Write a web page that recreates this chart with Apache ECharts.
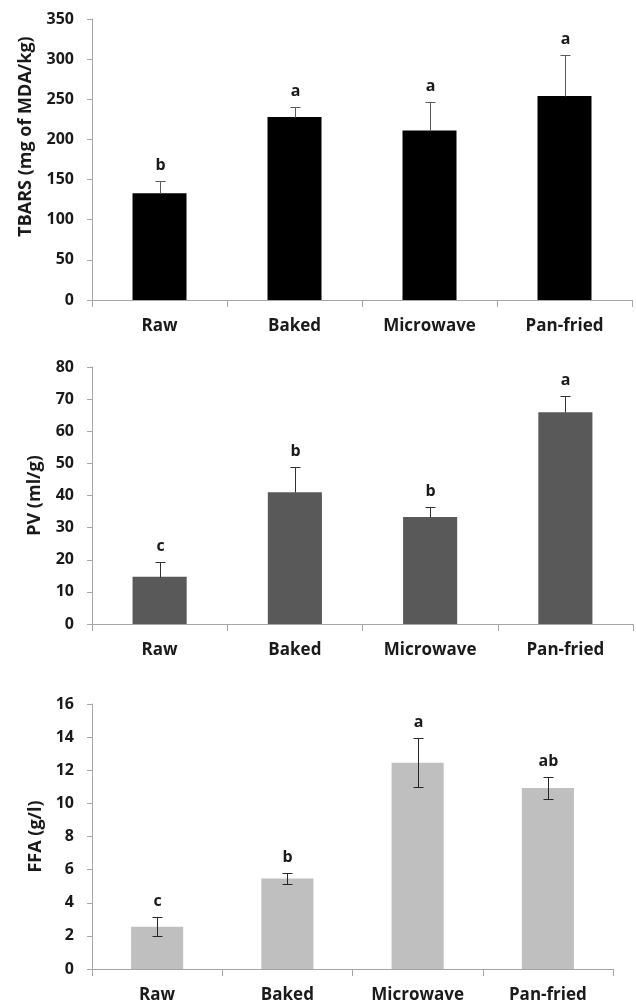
<!DOCTYPE html>
<html><head><meta charset="utf-8">
<script src="https://cdn.jsdelivr.net/npm/echarts@6/dist/echarts.min.js"></script>
<style>html,body{margin:0;padding:0;background:#fff}#c{width:636px;height:1006px}</style>
</head><body><div id="c"></div>
<script>
const categories = ['Raw', 'Baked', 'Microwave', 'Pan-fried'];

const tbarsMean = [133, 228, 211, 254];
const tbarsErr = [15, 12, 36, 51];
const tbarsLetters = ['b', 'a', 'a', 'a'];
const tbarsAxis = [0, 350, 50];

const pvMean = [14.7, 41.0, 33.3, 65.9];
const pvErr = [4.7, 8.0, 3.1, 5.0];
const pvLetters = ['c', 'b', 'b', 'a'];
const pvAxis = [0, 80, 10];

const ffaMean = [2.55, 5.47, 12.45, 10.93];
const ffaErr = [0.57, 0.32, 1.48, 0.66];
const ffaLetters = ['c', 'b', 'a', 'ab'];
const ffaAxis = [0, 16, 2];

const FONT = '"Open Sans", "Liberation Sans", sans-serif';
const TXT = '#1a1a1a';
const AX = '#a6a6a6';

const panels = [
  {name: 'TBARS (mg of MDA/kg)', mean: tbarsMean, err: tbarsErr, letters: tbarsLetters, axis: tbarsAxis,
   color: '#000000', errColor: '#595959', both: false, grid: {left: 92, top: 19, width: 540, height: 281}, nameGap: 57, namePad: [0, 0, 0, 46]},
  {name: 'PV (ml/g)', mean: pvMean, err: pvErr, letters: pvLetters, axis: pvAxis,
   color: '#595959', errColor: '#333333', both: false, grid: {left: 92, top: 367, width: 541, height: 257}, nameGap: 48, namePad: [0, 0, 0, 0]},
  {name: 'FFA (g/l)', mean: ffaMean, err: ffaErr, letters: ffaLetters, axis: ffaAxis,
   color: '#bfbfbf', errColor: '#262626', both: true, grid: {left: 92, top: 704, width: 521, height: 265}, nameGap: 46, namePad: [0, 0, 0, 0]}
];

function makeRender(p) {
  return function (params, api) {
    const i = api.value(0), m = api.value(1), e = api.value(2);
    const top = api.coord([i, m + e]);
    const mid = api.coord([i, m]);
    const bot = api.coord([i, m - e]);
    const x = Math.round(top[0]) + 0.5;
    const yt = Math.round(top[1]) + 0.5;
    const yb = Math.round(p.both ? bot[1] : mid[1]) + 0.5;
    const st = {stroke: p.errColor, lineWidth: 1};
    const cap = 5;
    const ch = [
      {type: 'line', shape: {x1: x, y1: yt, x2: x, y2: yb}, style: st},
      {type: 'line', shape: {x1: x - cap, y1: yt, x2: x + cap, y2: yt}, style: st}
    ];
    if (p.both) ch.push({type: 'line', shape: {x1: x - cap, y1: yb, x2: x + cap, y2: yb}, style: st});
    ch.push({type: 'text', x: x, y: yt - 8, style: {text: p.letters[params.dataIndex], align: 'center', verticalAlign: 'bottom',
      fontSize: 16, fontWeight: 'bold', fontFamily: FONT, fill: TXT}});
    return {type: 'group', children: ch};
  };
}

const option = {
  animation: false,
  backgroundColor: '#ffffff',
  grid: panels.map(p => p.grid),
  xAxis: panels.map((p, k) => ({
    gridIndex: k, type: 'category', data: categories,
    axisLine: {show: true, lineStyle: {color: AX, width: 1}},
    axisTick: {show: true, length: 7, alignWithLabel: false, lineStyle: {color: AX}},
    axisLabel: {margin: 18, fontSize: 17, fontWeight: 'bold', fontFamily: FONT, color: TXT, interval: 0},
    splitLine: {show: false}
  })),
  yAxis: panels.map((p, k) => ({
    gridIndex: k, type: 'value', min: p.axis[0], max: p.axis[1], interval: p.axis[2],
    name: p.name, nameLocation: 'middle', nameGap: p.nameGap,
    nameTextStyle: {fontSize: 18, fontWeight: 'bold', fontFamily: FONT, color: TXT, padding: p.namePad},
    axisLine: {show: true, lineStyle: {color: AX, width: 1}},
    axisTick: {show: true, length: 5, lineStyle: {color: AX}},
    axisLabel: {margin: 18, fontSize: 16, fontWeight: 'bold', fontFamily: FONT, color: TXT},
    splitLine: {show: false}
  })),
  series: panels.flatMap((p, k) => [
    {type: 'bar', xAxisIndex: k, yAxisIndex: k, data: p.mean, barWidth: '40%',
     itemStyle: {color: p.color}, z: 2},
    {type: 'custom', xAxisIndex: k, yAxisIndex: k, z: 5, clip: false,
     data: p.mean.map((m, i) => [i, m, p.err[i]]),
     encode: {x: 0, y: 1},
     renderItem: makeRender(p)}
  ])
};

const chart = echarts.init(document.getElementById('c'), null, {renderer: 'canvas'});
chart.setOption(option);
</script>
</body></html>
